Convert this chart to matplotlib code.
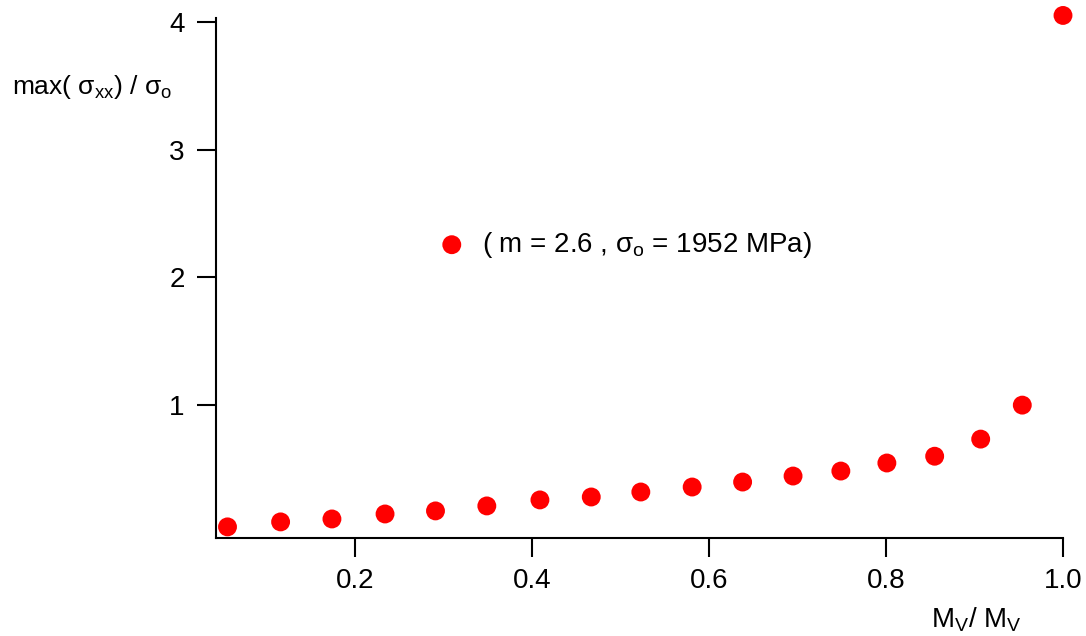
import numpy as np
import matplotlib
matplotlib.use('Agg')
import matplotlib.pyplot as plt

plt.rcParams['font.family'] = ['Liberation Sans', 'DejaVu Sans']
plt.rcParams['mathtext.fontset'] = 'custom'
plt.rcParams['mathtext.rm'] = 'Liberation Sans'
plt.rcParams['mathtext.it'] = 'Liberation Sans'

# Data
mv_ratio = [0.056, 0.116, 0.174, 0.234, 0.291, 0.349, 0.409, 0.467, 0.523,
            0.581, 0.638, 0.695, 0.749, 0.801, 0.855, 0.907, 0.954, 1.0]
max_stress = [0.047, 0.086, 0.109, 0.148, 0.172, 0.211, 0.258, 0.281, 0.320,
              0.359, 0.398, 0.445, 0.484, 0.547, 0.600, 0.734, 1.0, 4.05]
series_label = r'( m = 2.6 , $\sigma_o$ = 1952 MPa)'
x_ticks = [0.2, 0.4, 0.6, 0.8, 1.0]
y_ticks = [1, 2, 3, 4]

fig = plt.figure(figsize=(10.86, 6.36), dpi=100)
ax = fig.add_axes([216/1086, 1 - 538/636, (1063 - 216)/1086, 520/636])

ax.scatter(mv_ratio, max_stress, s=185, color='#ff0000', edgecolors='none',
           clip_on=False, zorder=3, label=series_label)

ax.set_xlim(0.043, 1.0)
ax.set_ylim(-0.04, 4.03)
ax.set_xticks(x_ticks)
ax.set_xticklabels(['%.1f' % t for t in x_ticks])
ax.set_yticks(y_ticks)
ax.set_yticklabels([str(t) for t in y_ticks])

for side in ['top', 'right']:
    ax.spines[side].set_visible(False)
for side in ['left', 'bottom']:
    ax.spines[side].set_linewidth(1.5)
ax.tick_params(direction='out', length=13.5, width=1.5, labelsize=20)
ax.tick_params(axis='x', pad=8)
ax.tick_params(axis='y', pad=9)

ax.set_xlabel(r'M$_V$/ M$_V$', fontsize=20, va='center')
ax.xaxis.set_label_coords(0.898, -0.158)
ax.set_ylabel(r'max( $\sigma_{xx}$) / $\sigma_o$', fontsize=19, rotation=0,
              va='center')
ax.yaxis.set_label_coords(-0.146, 0.867)

ax.legend(loc='center left', bbox_to_anchor=((424 - 216)/847, (538 - 245)/520),
          frameon=False, fontsize=20, handletextpad=0.1, borderpad=0,
          borderaxespad=0)

plt.savefig('out.png', dpi=100)
